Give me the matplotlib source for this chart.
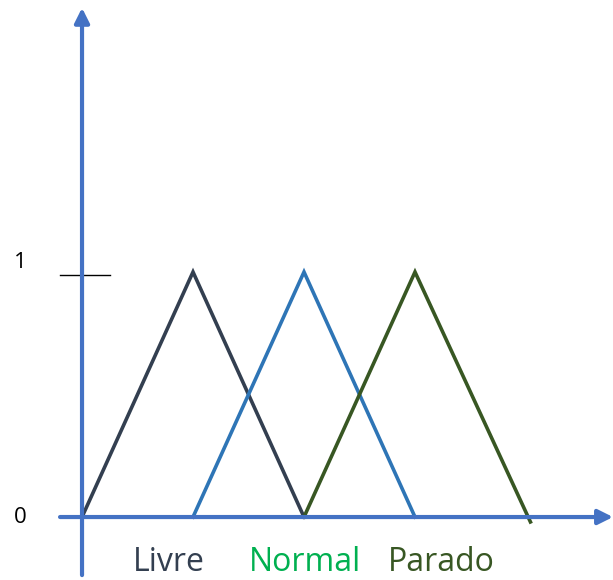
import matplotlib.pyplot as plt

# membership functions (triangles)
names = ['Livre', 'Normal', 'Parado']
livre_x = [0, 1, 2]
livre_y = [0, 1, 0]
normal_x = [1, 2, 3]
normal_y = [0, 1, 0]
parado_x = [2, 3, 4.04]
parado_y = [0, 1, -0.02]
label_x = [0.78, 2.01, 3.24]
yticks = [0, 1]

line_colors = ['#333F50', '#2E75B6', '#385723']
text_colors = ['#333F50', '#00B050', '#385723']
axis_color = '#4472C4'

fig = plt.figure(figsize=(6.13, 5.8), dpi=100)
ax = fig.add_axes([0, 0, 1, 1])
ax.set_xlim(-0.739, 4.784)
ax.set_ylim(-0.257, 2.110)
ax.axis('off')

# axes with arrows
ax.annotate('', xy=(4.784, 0), xytext=(-0.198, 0),
            arrowprops=dict(arrowstyle='-|>', color=axis_color, lw=3,
                            mutation_scale=22, shrinkA=0, shrinkB=0))
ax.annotate('', xy=(0, 2.078), xytext=(0, -0.237),
            arrowprops=dict(arrowstyle='-|>', color=axis_color, lw=3,
                            mutation_scale=22, shrinkA=0, shrinkB=0))

# tick at 1
ax.plot([-0.198, 0.252], [0.988, 0.988], color='black', lw=1)

# triangles
for xs, ys, c in zip([livre_x, normal_x, parado_x],
                     [livre_y, normal_y, parado_y], line_colors):
    ax.plot(xs, ys, color=c, lw=2.6, solid_joinstyle='miter')

# y labels
for v in yticks:
    ax.text(-0.558, v + (0.04 if v == 1 else 0.0), str(v), fontsize=16,
            family='Open Sans', ha='center', va='center', color='black')

# category labels
for name, lx, c in zip(names, label_x, text_colors):
    ax.text(lx, -0.186, name, fontsize=23, family='Open Sans',
            ha='center', va='center', color=c)

fig.savefig('out.png', dpi=100)
